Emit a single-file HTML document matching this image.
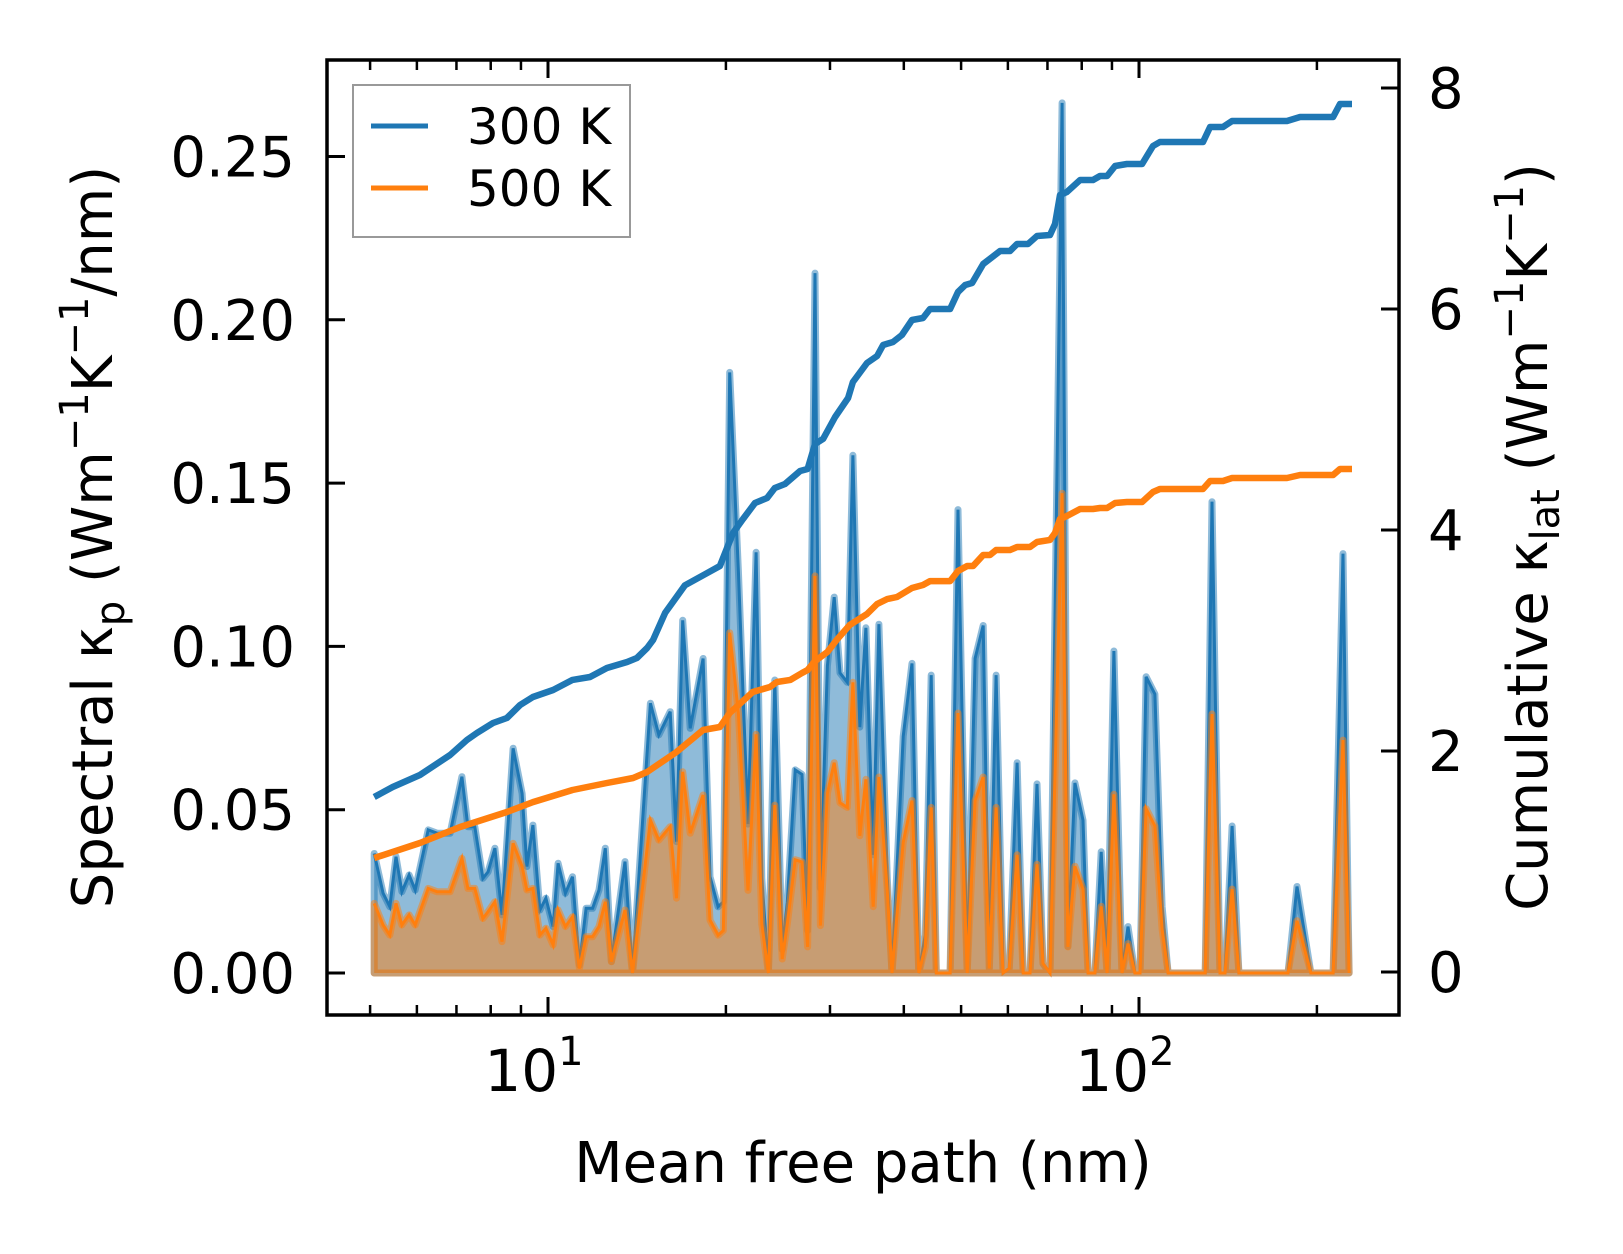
<!DOCTYPE html>
<html><head><meta charset="utf-8"><style>
html,body{margin:0;padding:0;background:#fff;}
svg{display:block;font-family:"DejaVu Sans","Liberation Sans",sans-serif;}
</style></head><body>
<svg id="chart" width="1623" height="1254" viewBox="0 0 1623 1254" xmlns="http://www.w3.org/2000/svg">
<rect width="1623" height="1254" fill="#fff"/>
<g id="plot"></g>
<g id="axes"></g>
</svg>
<script>
// Spectral data (mean free path in nm, spectral kappa)
const mfp = [5.08,5.26,5.40,5.53,5.66,5.82,5.96,6.27,6.49,6.83,7.15,7.32,7.52,7.76,7.92,8.13,8.36,8.73,9.04,9.21,9.43,9.69,9.92,10.2,10.4,10.7,11.0,11.3,11.6,11.9,12.2,12.5,12.8,13.5,13.9,14.9,15.4,16.1,16.5,16.9,17.4,18.3,18.8,19.4,19.8,
20.3,21.0,21.8,22.5,23.0,23.6,24.2,24.9,25.4,26.2,26.9,27.5,28.3,28.9,29.7,30.5,31.2,32.1,32.8,33.7,34.5,35.5,36.3,37.5,38.2,39.9,41.3,42.4,43.5,44.5,45.4,47.9,49.4,51.2,52.8,54.5,55.8,57.3,58.9,60.3,62.2,63.7,65.4,67.2,68.8,70.7,
74.1,75.8,77.9,80.4,82.0,84.2,86.3,88.3,90.7,93.6,95.8,98.4,100.4,102.8,106.4,109.4,112.0,129.4,132.9,137.1,139.8,143.7,147.6,178.7,185.1,195.4,213.0,221.4,226.7];
const spec300 = [.0366,.0244,.0203,.0356,.0249,.030,.0254,.0438,.0428,.0428,.0601,.0448,.0448,.029,.031,.0382,.0178,.0688,.055,.0326,.0453,.0193,.0229,.0142,.0336,.0244,.0295,.0024,.0198,.0198,.0254,.0382,.0035,.0341,0,.0826,.0729,.080,.0402,.108,.0749,.0963,.0295,.0203,.0218,
.1839,.123,.0456,.1288,.029,0,.0897,.0072,.0217,.0622,.0608,.013,.2143,.026,.094,.1151,.0919,.089,.1585,.0753,.1057,.0362,.1068,.029,0,.0724,.0948,0,.0116,.0912,0,0,.1419,0,.0963,.1064,.0014,.0912,0,.0014,.0644,0,0,.0579,.0029,0,
.2664,.0081,.0582,.0468,0,0,.0371,0,.0986,0,.0142,0,0,.0907,.0854,.0204,0,0,.1443,0,0,.045,0,0,.0265,0,0,.1284,0];
const spec500 = [.0213,.0147,.0116,.0213,.0147,.0178,.0147,.0259,.0249,.0249,.0351,.0259,.0259,.0167,.0188,.0218,.0096,.0397,.0326,.0254,.0259,.0116,.0137,.0086,.0193,.0142,.0172,.0014,.0111,.0111,.0142,.0218,.0035,.0193,0,.0468,.0407,.0448,.0229,.0616,.0428,.0545,.0162,.0116,.013,
.1042,.0796,.0253,.0731,.015,0,.0514,.0043,.015,.0347,.034,.008,.1216,.0145,.055,.0644,.0521,.0507,.089,.042,.0593,.0203,.060,.025,0,.040,.0528,0,.008,.0507,0,0,.0796,0,.0528,.060,.0014,.0507,0,.0014,.0362,0,0,.0333,.0029,0,
.1469,.008,.0327,.0257,0,0,.0204,0,.0547,0,.009,0,0,.0503,.045,.0134,0,0,.0793,0,0,.0257,0,0,.016,0,0,.0713,0];
// Cumulative data
const cumX300 = [5.08,5.46,6.07,6.83,7.29,7.58,8.07,8.52,8.97,9.43,10.2,11.0,11.78,12.58,13.61,14.14,14.71,15.06,15.78,17.05,18.44,19.54,20.56,21.38,22.40,23.48,24.2,25.18,26.70,27.5,28.3,29.21,30.6,32.2,32.8,34.66,36.05,36.9,38.35,39.7,41.3,43.1,44.3,47.9,49.4,50.8,52.2,54.5,
58.2,60.5,62.2,64.9,67.2,70.7,72.1,73.5,75.5,79.5,83.6,85.9,88.3,91.1,95.4,101.2,105.6,108.5,128.3,131.9,138.7,143.7,178.0,187.3,213.0,218.8,229.3];
const cum300 = [1.584,1.674,1.783,1.964,2.10,2.163,2.253,2.299,2.416,2.489,2.552,2.643,2.67,2.751,2.805,2.842,2.932,3.005,3.25,3.5,3.6,3.674,3.973,4.1,4.244,4.29,4.38,4.416,4.534,4.552,4.778,4.824,5.023,5.195,5.339,5.511,5.575,5.674,5.701,5.765,5.9,5.919,6.0,6.0,6.154,6.217,6.235,6.407,
6.525,6.525,6.588,6.588,6.661,6.67,6.769,7.032,7.059,7.167,7.167,7.204,7.204,7.294,7.312,7.312,7.475,7.511,7.511,7.647,7.647,7.701,7.701,7.738,7.738,7.855,7.855];
const cumX500 = [5.08,6.07,7.10,8.52,9.43,11.0,12.58,13.93,14.71,16.5,18.3,19.54,20.3,21.1,22.2,23.75,24.4,25.7,26.9,27.5,28.3,29.7,30.8,32.4,34.66,36.05,37.5,38.95,41.3,43.1,44.3,47.9,49.4,51.2,52.4,54.5,55.96,57.3,60.5,62.2,65.4,67.2,70.7,
72.1,73.5,75.5,79.5,83.6,85.9,88.3,91.1,95.4,101.2,105.6,108.5,128.3,131.9,138.7,143.7,178.0,187.3,213.0,218.8,229.3];
const cum500 = [1.032,1.167,1.312,1.448,1.538,1.647,1.710,1.756,1.81,1.991,2.19,2.217,2.344,2.425,2.534,2.579,2.624,2.643,2.706,2.733,2.814,2.896,3.005,3.14,3.24,3.33,3.376,3.394,3.475,3.502,3.538,3.538,3.629,3.674,3.674,3.774,3.774,3.819,3.819,3.846,3.846,3.891,3.91,
3.973,4.1,4.127,4.19,4.19,4.199,4.199,4.244,4.253,4.253,4.344,4.371,4.371,4.443,4.443,4.471,4.471,4.498,4.498,4.552,4.552];
const leftTicks = [0,0.05,0.10,0.15,0.20,0.25];
const leftTickLabels = ["0.00","0.05","0.10","0.15","0.20","0.25"];
const rightTicks = [0,2,4,6,8];
const xMajor = [10,100];
const xMinor = [5,6,7,8,9,20,30,40,50,60,70,80,90,200];

const L=327,R=1399,T=60,B=1015;
function sx(v){return 548+591*(Math.log10(v)-1);}
function sy(v){return 973-v*3266;}
function sc(v){return 972-v*110.5;}
const NS="http://www.w3.org/2000/svg";
function mk(tag,attrs,parent){const e=document.createElementNS(NS,tag);for(const k in attrs)e.setAttribute(k,attrs[k]);parent.appendChild(e);return e;}
const plot=document.getElementById('plot');
const axes=document.getElementById('axes');

function areaPath(xs,ys){let d='M'+sx(xs[0]).toFixed(1)+','+sy(0).toFixed(1);for(let i=0;i<xs.length;i++)d+='L'+sx(xs[i]).toFixed(1)+','+sy(ys[i]).toFixed(1);d+='L'+sx(xs[xs.length-1]).toFixed(1)+','+sy(0).toFixed(1)+'Z';return d;}
function linePath(xs,ys,f){let d='';for(let i=0;i<xs.length;i++)d+=(i?'L':'M')+sx(xs[i]).toFixed(1)+','+f(ys[i]).toFixed(1);return d;}

const a300=mk('path',{d:areaPath(mfp,spec300),fill:'rgba(31,119,180,0.5)',stroke:'rgba(31,119,180,0.5)','stroke-width':7,'stroke-linejoin':'round'},plot);


const l300=mk('path',{d:linePath(mfp,spec300,sy),fill:'none',stroke:'#1f77b4','stroke-width':3},plot);


const a500=mk('path',{d:areaPath(mfp,spec500),fill:'rgba(255,127,14,0.5)',stroke:'rgba(255,127,14,0.5)','stroke-width':7,'stroke-linejoin':'round'},plot);


const l500=mk('path',{d:linePath(mfp,spec500,sy),fill:'none',stroke:'#ff7f0e','stroke-width':3},plot);


const c300=mk('path',{d:linePath(cumX300,cum300,sc),fill:'none',stroke:'#1f77b4','stroke-width':6.5,'stroke-linejoin':'round'},plot);


const c500=mk('path',{d:linePath(cumX500,cum500,sc),fill:'none',stroke:'#ff7f0e','stroke-width':6.5,'stroke-linejoin':'round'},plot);



// frame
const frame=mk('rect',{x:L,y:T,width:R-L,height:B-T,fill:'none',stroke:'#000','stroke-width':3.5},axes);


leftTicks.forEach((v,i)=>{
  const y=sy(v);
  const t=mk('line',{x1:L,x2:L+18,y1:y,y2:y,stroke:'#000','stroke-width':3},axes);
  
  
  const tx=mk('text',{x:295,y:y+20,'text-anchor':'end','font-size':56,fill:'#000'},axes);
  tx.textContent=leftTickLabels[i];
  
  
});
rightTicks.forEach(v=>{
  const y=sc(v);
  const t=mk('line',{x1:R-18,x2:R,y1:y,y2:y,stroke:'#000','stroke-width':3},axes);
  
  
  const tx=mk('text',{x:1428,y:y+20,'text-anchor':'start','font-size':56,fill:'#000'},axes);
  tx.textContent=String(v);
  
  
});
xMajor.forEach((v,i)=>{
  const x=sx(v);
  [[B,B-18],[T,T+18]].forEach(p=>{
    const t=mk('line',{x1:x,x2:x,y1:p[0],y2:p[1],stroke:'#000','stroke-width':3},axes);
    
    
  });
  const tx=mk('text',{x:x-14,y:1091,'text-anchor':'middle','font-size':58,fill:'#000'},axes);
  tx.textContent='10';
  const sup=mk('tspan',{dy:-26,'font-size':40},tx);
  sup.textContent=String(i+1);
  
  
});
xMinor.forEach(v=>{
  const x=sx(v);
  [[B,B-10],[T,T+10]].forEach(p=>{
    const t=mk('line',{x1:x,x2:x,y1:p[0],y2:p[1],stroke:'#000','stroke-width':2.5},axes);
    
    
  });
});
</script>
<svg style="position:absolute;left:0;top:0" width="1623" height="1254" xmlns="http://www.w3.org/2000/svg" font-family="DejaVu Sans, Liberation Sans, sans-serif">
<text x="863" y="1182" text-anchor="middle" font-size="56">Mean free path (nm)</text>
<text transform="translate(112,537) rotate(-90)" text-anchor="middle" font-size="56">Spectral κ<tspan font-size="40" dy="12">p</tspan><tspan dy="-12"> (Wm</tspan><tspan font-size="40" dy="-24">−1</tspan><tspan dy="24">K</tspan><tspan font-size="40" dy="-24">−1</tspan><tspan dy="24">/nm)</tspan></text>
<text transform="translate(1547,537) rotate(-90)" text-anchor="middle" font-size="56">Cumulative κ<tspan font-size="40" dy="12">lat</tspan><tspan dy="-12"> (Wm</tspan><tspan font-size="40" dy="-24">−1</tspan><tspan dy="24">K</tspan><tspan font-size="40" dy="-24">−1</tspan><tspan dy="24">)</tspan></text>
<g>
<rect x="353" y="85" width="277" height="152" fill="#fff" fill-opacity="0.8" stroke="#999" stroke-width="2"/>
<line x1="371" x2="428" y1="126" y2="126" stroke="#1f77b4" stroke-width="5"/>
<text x="467" y="144" font-size="50">300 K</text>
<line x1="371" x2="428" y1="188" y2="188" stroke="#ff7f0e" stroke-width="5"/>
<text x="467" y="206" font-size="50">500 K</text>
</g>
</svg>
</body></html>
